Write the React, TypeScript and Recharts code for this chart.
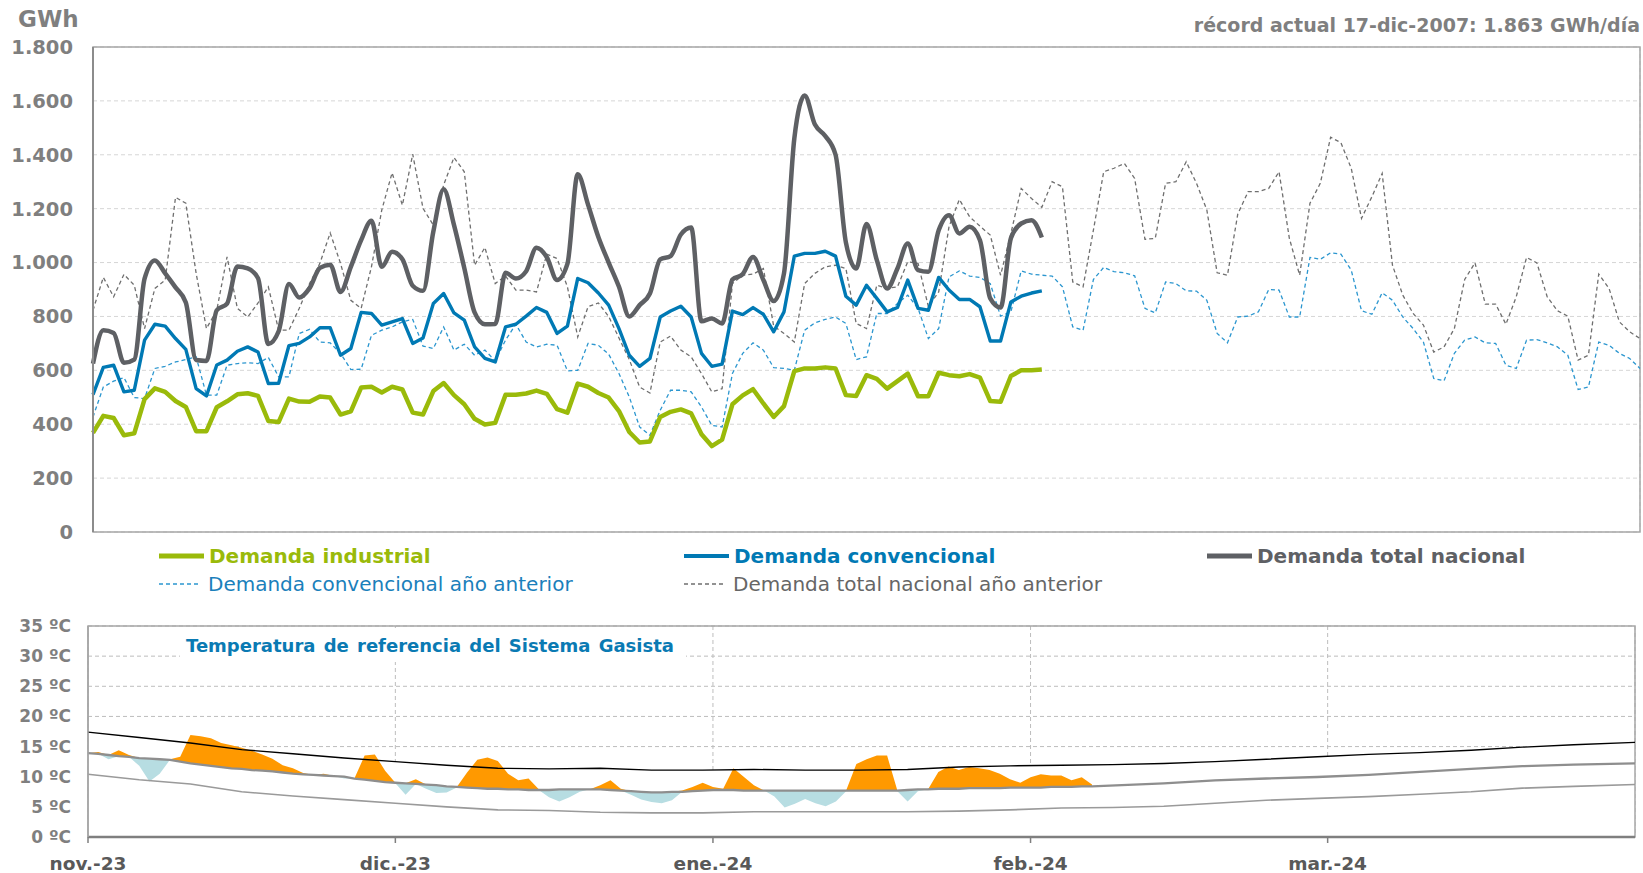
import React from "react";
import {
  Area,
  CartesianGrid,
  ComposedChart,
  Line,
  LineChart,
  ReferenceArea,
  XAxis,
  YAxis,
} from "recharts";

const FONT = "'DejaVu Sans', Verdana, sans-serif";

// ---- demanda (GWh/día), índice de día desde 1-nov ----
const gwhTicks = [0, 200, 400, 600, 800, 1000, 1200, 1400, 1600, 1800];
const monthStarts = [30, 61, 92, 120];

const industrial = [
  368, 431, 423, 359, 366, 493, 533, 520, 486, 464, 374, 374, 463, 485, 511, 515, 505, 412, 408, 495,
  484, 483, 503, 499, 436, 448, 536, 539, 518, 539, 529, 443, 436, 523, 553, 508, 474, 420, 399, 405,
  509, 509, 514, 525, 513, 456, 443, 551, 539, 516, 499, 449, 371, 332, 336, 427, 446, 455, 440, 363,
  319, 343, 474, 507, 530, 477, 427, 467, 597, 607, 607, 611, 607, 508, 505, 582, 568, 532, 560, 588,
  504, 504, 591, 582, 578, 586, 573, 486, 483, 579, 600, 600, 603,
];

const convencional = [
  510, 611, 619, 520, 526, 712, 771, 764, 718, 678, 532, 505, 620, 638, 671, 687, 668, 551, 552, 692,
  700, 724, 758, 758, 656, 681, 815, 811, 768, 780, 792, 700, 720, 848, 885, 813, 786, 687, 644, 631,
  761, 771, 801, 833, 815, 737, 764, 941, 925, 887, 842, 755, 656, 615, 644, 798, 820, 838, 798, 663,
  615, 623, 820, 807, 833, 808, 743, 817, 1024, 1034, 1034, 1042, 1024, 875, 842, 916, 867, 817, 833, 935,
  830, 823, 945, 898, 863, 863, 836, 709, 709, 854, 875, 887, 895,
];

const totalNacional = [
  625, 749, 739, 628, 640, 940, 1008, 960, 908, 852, 638, 635, 823, 848, 985, 978, 942, 698, 745, 920,
  870, 905, 980, 992, 891, 984, 1083, 1155, 984, 1040, 1012, 914, 895, 1115, 1272, 1140, 980, 815, 771, 772,
  962, 941, 968, 1055, 1020, 935, 995, 1328, 1215, 1095, 1000, 910, 800, 842, 885, 1012, 1024, 1104, 1130, 782,
  792, 774, 937, 957, 1021, 935, 857, 960, 1460, 1620, 1512, 1470, 1400, 1075, 978, 1143, 1009, 904, 978, 1071,
  972, 966, 1120, 1176, 1108, 1133, 1083, 867, 833, 1090, 1145, 1157, 1093,
];

const convencionalAnterior = [
  427, 538, 560, 573, 499, 495, 607, 615, 631, 640, 650, 508, 508, 619, 625, 628, 625, 648, 576, 576,
  737, 752, 705, 702, 663, 603, 604, 730, 749, 761, 780, 789, 690, 681, 761, 675, 697, 656, 675, 635,
  712, 771, 705, 687, 697, 693, 598, 600, 700, 693, 660, 588, 501, 390, 359, 452, 526, 526, 520, 464,
  396, 390, 588, 663, 702, 675, 610, 607, 600, 749, 776, 789, 798, 774, 640, 650, 811, 811, 848, 879,
  830, 718, 755, 947, 969, 950, 945, 922, 801, 817, 969, 957, 953, 950, 910, 761, 749, 937, 982, 966,
  962, 951, 830, 813, 928, 922, 895, 894, 860, 737, 702, 798, 801, 817, 900, 898, 798, 798, 1019, 1012,
  1036, 1031, 972, 821, 808, 888, 860, 798, 755, 705, 570, 561, 663, 712, 724, 702, 700, 619, 607, 712,
  714, 702, 687, 656, 529, 538, 705, 693, 663, 644, 607,
];

const totalAnterior = [
  823, 945, 873, 956, 916, 755, 904, 935, 1242, 1220, 960, 755, 823, 1021, 830, 798, 850, 910, 749, 749,
  830, 922, 997, 1110, 997, 860, 830, 984, 1195, 1333, 1213, 1402, 1201, 1139, 1288, 1390, 1337, 990, 1056, 922,
  950, 898, 898, 891, 1031, 1015, 910, 724, 836, 850, 800, 720, 640, 538, 516, 705, 727, 675, 650, 588,
  520, 532, 922, 953, 957, 978, 764, 737, 705, 922, 960, 984, 990, 978, 774, 755, 916, 904, 910, 1003,
  997, 836, 891, 1133, 1234, 1170, 1135, 1102, 953, 1108, 1275, 1238, 1205, 1300, 1281, 928, 910, 1120, 1337, 1350,
  1368, 1312, 1086, 1090, 1294, 1300, 1374, 1294, 1195, 962, 953, 1180, 1263, 1263, 1275, 1337, 1090, 953, 1220, 1294,
  1465, 1445, 1350, 1164, 1244, 1331, 990, 879, 811, 768, 668, 687, 755, 937, 999, 846, 846, 771, 873, 1019,
  999, 873, 821, 801, 638, 656, 957, 904, 780, 743, 718,
];

// ---- temperatura (ºC), índice de día desde 1-nov ----
const tempTicks = [0, 5, 10, 15, 20, 25, 30, 35];
const monthTickDays = [0, 30, 61, 92, 121];
const monthLabels = ["nov.-23", "dic.-23", "ene.-24", "feb.-24", "mar.-24"];

const tempReal = [
  13.9, 14.1, 12.9, 14.4, 13.6, 11.8, 9.2, 10.5, 12.9, 13.3, 16.9, 16.7, 16.4, 15.6, 15.2, 14.8, 14.3, 13.7, 13.0, 11.9,
  11.4, 10.6, 10.3, 10.5, 10.1, 9.7, 9.7, 13.5, 13.7, 11.0, 8.9, 7.0, 9.6, 8.0, 7.3, 7.4, 8.2, 10.7, 12.8, 13.2,
  12.6, 10.5, 9.4, 9.7, 7.9, 6.6, 5.9, 6.6, 7.5, 7.9, 8.6, 9.4, 8.0, 7.0, 6.2, 5.8, 5.6, 6.1, 7.7, 8.3,
  9.0, 8.3, 8.0, 11.4, 10.0, 8.6, 7.7, 6.7, 4.9, 5.5, 6.3, 5.6, 5.1, 5.9, 7.6, 12.1, 12.9, 13.5, 13.5, 7.6,
  5.9, 7.6, 7.9, 10.8, 11.7, 11.1, 11.6, 11.4, 11.1, 10.5, 9.6, 9.0, 9.9, 10.4, 10.2, 10.2, 9.4, 9.9, 8.7,
];

const tempNormal = [
  13.9, 13.8, 13.6, 13.4, 13.3, 13.1, 13.0, 12.9, 12.8, 12.5, 12.2, 12.0, 11.8, 11.6, 11.4, 11.3, 11.1, 11.0, 10.9, 10.7,
  10.5, 10.4, 10.3, 10.2, 10.1, 10.0, 9.7, 9.5, 9.3, 9.1, 9.0, 8.9, 8.8, 8.7, 8.6, 8.4, 8.3, 8.2, 8.1, 8.0,
  8.0, 7.9, 7.9, 7.8, 7.8, 7.8, 7.9, 7.9, 7.9, 7.9, 7.9, 7.8, 7.7, 7.6, 7.5, 7.4, 7.4, 7.5, 7.5, 7.6,
  7.7, 7.8, 7.8, 7.8, 7.7, 7.7, 7.7, 7.7, 7.7, 7.7, 7.7, 7.7, 7.7, 7.7, 7.7, 7.7, 7.7, 7.7, 7.7, 7.7,
  7.8, 7.9, 7.9, 8.0, 8.0, 8.0, 8.1, 8.1, 8.1, 8.1, 8.2, 8.2, 8.2, 8.2, 8.3, 8.3, 8.3, 8.4, 8.4,
];

const normalLateDays = [105, 110, 115, 120, 125, 130, 135, 140, 145, 151];
const normalLate = [8.9, 9.4, 9.7, 9.95, 10.3, 10.8, 11.3, 11.75, 12.0, 12.2];

const refDays = [0, 5, 10, 15, 20, 25, 30, 35, 40, 45, 50, 55, 60, 65, 70, 75, 80, 85, 90, 95, 100, 105, 110, 115, 120, 125, 130, 135, 140, 145, 151];
const tempAlta = [
  17.4, 16.5, 15.6, 14.5, 13.8, 13.1, 12.5, 11.9, 11.4, 11.3, 11.4, 11.1, 11.1, 11.2, 11.1, 11.1, 11.2, 11.6, 11.8, 11.9,
  12.0, 12.2, 12.5, 12.9, 13.3, 13.7, 14.0, 14.4, 14.9, 15.3, 15.7,
];
const tempBaja = [
  10.4, 9.5, 8.8, 7.5, 6.8, 6.2, 5.6, 5.0, 4.5, 4.4, 4.1, 4.0, 4.0, 4.2, 4.2, 4.2, 4.2, 4.3, 4.5, 4.8,
  4.9, 5.1, 5.6, 6.1, 6.4, 6.7, 7.1, 7.5, 8.1, 8.4, 8.7,
];

const currentRows = industrial.map((v, i) => ({
  day: i,
  industrial: v,
  convencional: convencional[i],
  total: totalNacional[i],
}));

const previousRows = totalAnterior.map((v, i) => ({
  day: i,
  totalPrev: v,
  convencionalPrev: convencionalAnterior[i],
}));

const tempRows = tempReal.map((t, i) => ({
  day: i,
  warm: [tempNormal[i], Math.max(t, tempNormal[i])],
  cold: [Math.min(t, tempNormal[i]), tempNormal[i]],
}));

const normalRows = [
  ...tempNormal.map((t, i) => ({ day: i, t })),
  ...normalLateDays.map((d, k) => ({ day: d, t: normalLate[k] })),
];
const altaRows = refDays.map((d, k) => ({ day: d, t: tempAlta[k] }));
const bajaRows = refDays.map((d, k) => ({ day: d, t: tempBaja[k] }));

const formatGwh = (v: number) =>
  v >= 1000 ? `${Math.floor(v / 1000)}.${String(v % 1000).padStart(3, "0")}` : String(v);

const GREEN = "#9aba0a";
const BLUE = "#0079b4";
const DARK = "#5e6064";
const LIGHT_BLUE = "#2b96cf";
const DASH_GREY = "#6f6f6f";
const AXIS_GREY = "#7f7f7f";

interface KeyProps {
  x: number;
  y: number;
  color: string;
  textColor: string;
  dashed?: boolean;
  bold?: boolean;
  thick: number;
  label: string;
}

function LegendKey({ x, y, color, textColor, dashed, bold, thick, label }: KeyProps) {
  const w = dashed ? 40 : 45;
  return (
    <div
      style={{
        position: "absolute",
        left: x,
        top: y - 14,
        height: 28,
        display: "flex",
        alignItems: "center",
        whiteSpace: "nowrap",
      }}
    >
      <svg width={w} height={10} style={{ display: "block" }}>
        <line
          x1={0}
          y1={5}
          x2={w}
          y2={5}
          stroke={color}
          strokeWidth={thick}
          strokeDasharray={dashed ? "4 3" : undefined}
        />
      </svg>
      <span
        style={{
          marginLeft: dashed ? 9 : 5,
          fontFamily: FONT,
          fontSize: 20,
          fontWeight: bold ? "bold" : "normal",
          color: textColor,
        }}
      >
        {label}
      </span>
    </div>
  );
}

export default function App() {
  return (
    <div
      style={{
        position: "absolute",
        left: 0,
        top: 0,
        width: 1643,
        height: 873,
        background: "#fff",
        overflow: "hidden",
        fontFamily: FONT,
      }}
    >
      <div
        style={{ position: "absolute", left: 18, top: 6, fontSize: 23, fontWeight: "bold", color: AXIS_GREY }}
      >
        GWh
      </div>
      <div
        style={{ position: "absolute", right: 3, top: 14, fontSize: 19, fontWeight: "bold", color: AXIS_GREY }}
      >
        récord actual 17-dic-2007: 1.863 GWh/día
      </div>

      <div style={{ position: "absolute", left: 0, top: 0 }}>
        <LineChart width={1643} height={548} margin={{ top: 47, right: 3, bottom: 16, left: 0 }}>
          <CartesianGrid stroke="#d6d6d6" strokeDasharray="4 3" />
          <XAxis
            type="number"
            dataKey="day"
            domain={[0, 150]}
            ticks={monthStarts}
            tick={false}
            tickLine={false}
            height={0}
            axisLine={{ stroke: "#8c8c8c", strokeWidth: 2 }}
          />
          <YAxis
            type="number"
            domain={[0, 1800]}
            ticks={gwhTicks}
            interval={0}
            tickFormatter={formatGwh}
            width={93}
            tickLine={false}
            tickSize={7}
            tickMargin={13}
            axisLine={{ stroke: "#8c8c8c", strokeWidth: 2 }}
            tick={{ fill: AXIS_GREY, fontSize: 19.5, fontWeight: "bold", fontFamily: FONT }}
          />
          <ReferenceArea x1={0} x2={150} y1={0} y2={1800} fill="none" stroke="#a6a6a6" strokeWidth={1.5} />
          <Line
            data={previousRows}
            dataKey="totalPrev"
            type="linear"
            stroke={DASH_GREY}
            strokeWidth={1.3}
            strokeDasharray="4 3"
            dot={false}
            isAnimationActive={false}
          />
          <Line
            data={previousRows}
            dataKey="convencionalPrev"
            type="linear"
            stroke={LIGHT_BLUE}
            strokeWidth={1.3}
            strokeDasharray="4 3"
            dot={false}
            isAnimationActive={false}
          />
          <Line
            data={currentRows}
            dataKey="total"
            type="monotone"
            stroke={DARK}
            strokeWidth={4.5}
            dot={false}
            isAnimationActive={false}
          />
          <Line
            data={currentRows}
            dataKey="convencional"
            type="linear"
            stroke={BLUE}
            strokeWidth={3.4}
            strokeLinejoin="round"
            dot={false}
            isAnimationActive={false}
          />
          <Line
            data={currentRows}
            dataKey="industrial"
            type="linear"
            stroke={GREEN}
            strokeWidth={4.5}
            strokeLinejoin="round"
            dot={false}
            isAnimationActive={false}
          />
        </LineChart>
      </div>

      <LegendKey x={159} y={556} color={GREEN} textColor={GREEN} bold thick={5} label="Demanda industrial" />
      <LegendKey x={684} y={556} color={BLUE} textColor={BLUE} bold thick={4} label="Demanda convencional" />
      <LegendKey x={1207} y={556} color={DARK} textColor={DARK} bold thick={5} label="Demanda total nacional" />
      <LegendKey
        x={159}
        y={584}
        color={LIGHT_BLUE}
        textColor="#1a80bb"
        dashed
        thick={1.3}
        label="Demanda convencional año anterior"
      />
      <LegendKey
        x={684}
        y={584}
        color={DASH_GREY}
        textColor="#666666"
        dashed
        thick={1.3}
        label="Demanda total nacional año anterior"
      />

      <div style={{ position: "absolute", left: 0, top: 600 }}>
        <ComposedChart width={1643} height={273} margin={{ top: 26, right: 8, bottom: 0, left: 0 }}>
          <CartesianGrid stroke="#bdbdbd" strokeDasharray="4 3" />
          <XAxis
            type="number"
            dataKey="day"
            domain={[0, 151]}
            ticks={monthTickDays}
            interval={0}
            tickFormatter={(v: number) => monthLabels[monthTickDays.indexOf(v)] ?? ""}
            height={36}
            tickSize={6}
            tickMargin={14}
            axisLine={{ stroke: "#7f7f7f", strokeWidth: 2.5 }}
            tickLine={{ stroke: "#7f7f7f", strokeWidth: 1.5 }}
            tick={{ fill: "#595959", fontSize: 18.5, fontWeight: "bold", fontFamily: FONT }}
          />
          <YAxis
            type="number"
            domain={[0, 35]}
            ticks={tempTicks}
            interval={0}
            tickFormatter={(v: number) => `${v} ºC`}
            width={88}
            tickLine={false}
            tickSize={6}
            tickMargin={11}
            axisLine={{ stroke: "#a6a6a6", strokeWidth: 1.5 }}
            tick={{ fill: AXIS_GREY, fontSize: 17, fontWeight: "bold", fontFamily: FONT }}
          />
          <Area
            data={altaRows}
            dataKey="t"
            type="linear"
            fill="#ffffff"
            fillOpacity={1}
            stroke="none"
            isAnimationActive={false}
          />
          <Area
            data={tempRows}
            dataKey="warm"
            type="linear"
            fill="#ff9900"
            fillOpacity={1}
            stroke="none"
            isAnimationActive={false}
          />
          <Area
            data={tempRows}
            dataKey="cold"
            type="linear"
            fill="#b7dde2"
            fillOpacity={1}
            stroke="none"
            isAnimationActive={false}
          />
          <ReferenceArea x1={0} x2={151} y1={0} y2={35} fill="none" stroke="#a6a6a6" strokeWidth={1.5} />
          <Line
            data={bajaRows}
            dataKey="t"
            type="linear"
            stroke="#9a9a9a"
            strokeWidth={1.6}
            dot={false}
            isAnimationActive={false}
          />
          <Line
            data={normalRows}
            dataKey="t"
            type="linear"
            stroke="#8e8e8e"
            strokeWidth={2.3}
            dot={false}
            isAnimationActive={false}
          />
          <Line
            data={altaRows}
            dataKey="t"
            type="linear"
            stroke="#000000"
            strokeWidth={1.4}
            dot={false}
            isAnimationActive={false}
          />
        </ComposedChart>
      </div>

      <div
        style={{
          position: "absolute",
          left: 180,
          top: 628,
          width: 506,
          height: 34,
          background: "#fff",
          display: "flex",
          alignItems: "center",
          paddingLeft: 6,
          boxSizing: "border-box",
          fontSize: 18,
          fontWeight: "bold",
          color: "#0a7ab3",
          wordSpacing: 2,
          whiteSpace: "nowrap",
        }}
      >
        Temperatura de referencia del Sistema Gasista
      </div>
    </div>
  );
}
